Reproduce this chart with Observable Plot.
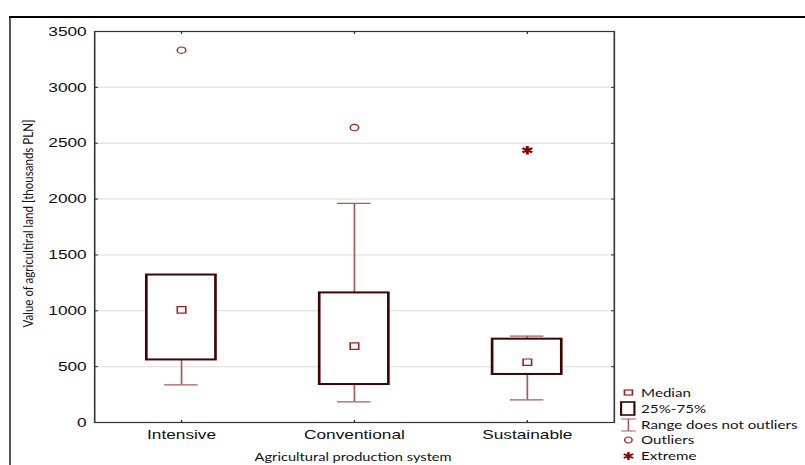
<!DOCTYPE html>
<html>
<head>
<meta charset="utf-8">
<script src="https://cdn.jsdelivr.net/npm/d3@7"></script>
<script src="https://cdn.jsdelivr.net/npm/@observablehq/plot@0.6"></script>
<style>
  html, body { margin: 0; padding: 0; background: #fff; }
  #wrap { position: relative; width: 805px; height: 465px; overflow: hidden; background: #fff; }
  #stage { position: absolute; left: 0; top: 0; width: 605px; height: 465px; transform: scaleX(1.33); transform-origin: 0 0; }
  #frame { position: absolute; left: 7px; top: 16px; width: 700px; height: 470px; border-top: 2px solid #000; border-left: 1.6px solid #000; }
  #xtitle { position: absolute; left: 70px; width: 391px; top: 450px; text-align: center; font: 11px Lato, sans-serif; color: #111; }
  #legend { position: absolute; left: 466px; top: 385px; font: 11.4px Lato, sans-serif; color: #111; }
  #legend .row { height: 15.7px; display: flex; align-items: center; white-space: nowrap; }
  #legend svg { width: 13px; height: 15px; margin-right: 3px; flex: none; }
  #ylab { position: absolute; left: 14px; top: 0px; overflow: visible; }
</style>
</head>
<body>
<div id="wrap">
  <div id="stage">
    <div id="frame"></div>
    <div id="plot"></div>
    <div id="xtitle">Agricultural production system</div>
    <div id="legend"></div>
  </div>
  <svg id="ylab" width="24" height="465">
    <text transform="translate(18.7,223.5) rotate(-90)" x="0" y="0" text-anchor="middle" textLength="208" lengthAdjust="spacingAndGlyphs"
      style="font: 13.5px Lato, sans-serif; fill:#111">Value of agricultiral land [thousands PLN]</text>
  </svg>
</div>
<script>
// ---- data ----
const categories = ["Intensive", "Conventional", "Sustainable"];
const q1 = [560, 340, 430];
const q3 = [1320, 1160, 746];
const medians = [1008, 684, 540];
const whiskerLow = [336, 185, 203];
const whiskerHigh = [1320, 1962, 773];
const outlierCats = ["Intensive", "Conventional"];
const outlierVals = [3333, 2640];
const extremeCats = ["Sustainable"];
const extremeVals = [2437];
const yTicks = [0, 500, 1000, 1500, 2000, 2500, 3000, 3500];
const gridTicks = [500, 1000, 1500, 2000, 2500, 3000];
const legendLabels = ["Median", "25%-75%", "Range does not outliers", "Outliers", "Extreme"];

const boxes = categories.map((c, i) => ({
  cat: c, q1: q1[i], q3: q3[i], med: medians[i], lo: whiskerLow[i], hi: whiskerHigh[i]
}));
const outliers = outlierCats.map((c, i) => ({cat: c, v: outlierVals[i]}));
const extremes = extremeCats.map((c, i) => ({cat: c, v: extremeVals[i]}));

const boxColor = "#3f0303";
const whiskColor = "#a65c5c";
const medColor = "#9a1e1e";
const outColor = "#a32020";
const extColor = "#8b0000";

const chart = Plot.plot({
  width: 605,
  height: 465,
  marginLeft: 70.7,
  marginRight: 143.6,
  marginTop: 31,
  marginBottom: 43,
  style: {fontFamily: "'Liberation Sans', Arial, sans-serif", fontSize: "13px", color: "#111", background: "transparent"},
  x: {type: "band", domain: categories, padding: 0, label: null},
  y: {domain: [0, 3500], label: null},
  marks: [
    Plot.ruleY(gridTicks, {stroke: "#dcdcdc", strokeWidth: 1}),
    Plot.ruleX(boxes, {x: "cat", y1: "q3", y2: "hi", stroke: whiskColor, strokeWidth: 1.3}),
    Plot.ruleX(boxes, {x: "cat", y1: "lo", y2: "q1", stroke: whiskColor, strokeWidth: 1.3}),
    Plot.tickY(boxes, {x: "cat", y: "lo", stroke: whiskColor, strokeWidth: 1.3, insetLeft: 52.4, insetRight: 52.4}),
    Plot.tickY(boxes, {x: "cat", y: "hi", stroke: whiskColor, strokeWidth: 1.3, insetLeft: 52.4, insetRight: 52.4}),
    Plot.barY(boxes, {x: "cat", y1: "q1", y2: "q3", fill: "white", stroke: boxColor, strokeWidth: 2, insetLeft: 39, insetRight: 39}),
    Plot.dot(boxes, {x: "cat", y: "med", symbol: "square", r: 3.6, stroke: medColor, fill: "white", strokeWidth: 1.2}),
    Plot.dot(outliers, {x: "cat", y: "v", symbol: "circle", r: 3.2, stroke: outColor, fill: "none", strokeWidth: 1.1}),
    Plot.dot(extremes, {x: "cat", y: "v", symbol: "asterisk", r: 4, stroke: extColor, strokeWidth: 2.2}),
    Plot.frame({stroke: "#333", strokeWidth: 1.2}),
    Plot.axisY(yTicks, {anchor: "left", tickSize: 0, tickPadding: 6, fontSize: 13, tickFormat: d => String(d)}),
    Plot.axisY(yTicks, {anchor: "left", tickSize: -3, text: null, stroke: "#333"}),
    Plot.axisY(yTicks, {anchor: "right", tickSize: -3, text: null, stroke: "#333"}),
    Plot.axisX({anchor: "bottom", tickSize: 0, tickPadding: 7, fontSize: 13}),
    Plot.axisX({anchor: "bottom", tickSize: -2, text: null, stroke: "#333"}),
    Plot.axisX({anchor: "top", tickSize: -2, text: null, stroke: "#333"})
  ]
});
document.getElementById("plot").appendChild(chart);

// ---- legend ----
const icons = [
  `<svg viewBox="0 0 13 15"><rect x="3.5" y="5" width="6" height="5" fill="white" stroke="${medColor}" stroke-width="1.2"/></svg>`,
  `<svg viewBox="0 0 13 15"><rect x="1" y="1" width="10" height="13" fill="white" stroke="${boxColor}" stroke-width="1.6"/></svg>`,
  `<svg viewBox="0 0 13 15"><path d="M1,2H12M6.5,2V14M1,14H12" fill="none" stroke="${whiskColor}" stroke-width="1.2"/></svg>`,
  `<svg viewBox="0 0 13 15"><ellipse cx="6.5" cy="8" rx="2.8" ry="3" fill="none" stroke="${outColor}" stroke-width="1.1"/></svg>`,
  `<svg viewBox="0 0 13 15"><path d="M6.5,4V12M3,6L10,10M3,10L10,6" fill="none" stroke="${extColor}" stroke-width="1.8"/></svg>`
];
const legend = document.getElementById("legend");
legendLabels.forEach((lab, i) => {
  const row = document.createElement("div");
  row.className = "row";
  row.innerHTML = icons[i] + `<span>${lab}</span>`;
  legend.appendChild(row);
});
</script>
</body>
</html>
